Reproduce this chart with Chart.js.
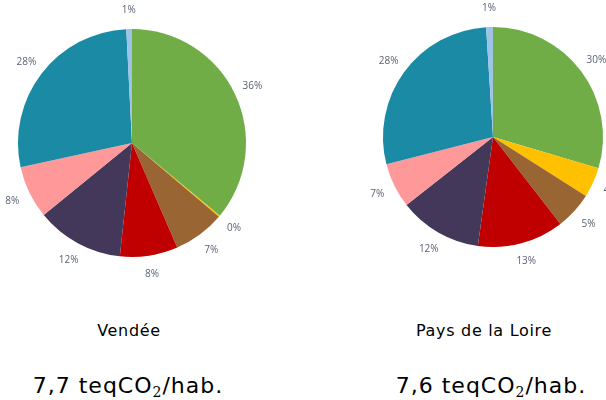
<!DOCTYPE html>
<html>
<head>
<meta charset="utf-8">
<script src="https://cdn.jsdelivr.net/npm/chart.js@4"></script>
<style>
  html, body { margin: 0; padding: 0; width: 606px; height: 400px; overflow: hidden; background: #fff; }
  .box { position: absolute; top: 0; height: 300px; }
  .txt { position: absolute; text-align: center; color: #000; font-family: "DejaVu Sans", sans-serif; white-space: nowrap; }
  .title { font-size: 16px; top: 321px; letter-spacing: 0.7px; }
  .big { font-size: 22px; top: 373px; letter-spacing: 1px; }
  sub { font-family: "DejaVu Serif", serif; font-size: 14px; vertical-align: -4px; line-height: 0; }
</style>
</head>
<body>
<div class="box" style="left:0;width:303px;"><canvas id="vendee"></canvas></div>
<div class="box" style="left:303px;width:400px;"><canvas id="pdl"></canvas></div>
<div class="txt title" style="left:29px;width:200px;">Vendée</div>
<div class="txt title" style="left:384px;width:200px;">Pays de la Loire</div>
<div class="txt big" style="left:28px;width:200px;">7,7 teqCO<sub>2</sub>/hab.</div>
<div class="txt big" style="left:391px;width:200px;">7,6 teqCO<sub>2</sub>/hab.</div>
<script>
// secteurs, dans l'ordre des aiguilles d'une montre depuis le haut
const sectors = ['Vert', 'Jaune', 'Marron', 'Rouge', 'Violet', 'Rose', 'Bleu canard', 'Bleu clair'];
const colors = ['#70AD47', '#FFC000', '#996633', '#C00000', '#44385A', '#FF9999', '#1A8AA5', '#9DC3E6'];

// Vendée
const vendeeValues = [36.0, 0.2, 7.3, 8.2, 12.4, 7.5, 27.6, 0.8];
const vendeeLabels = ['36%', '0%', '7%', '8%', '12%', '8%', '28%', '1%'];

// Pays de la Loire
const pdlValues = [29.6, 4.4, 5.5, 12.7, 12.2, 6.6, 28.0, 1.0];
const pdlLabels = ['30%', '4%', '5%', '13%', '12%', '7%', '28%', '1%'];

// Plugin pour écrire les pourcentages autour du camembert
const outsideLabels = {
  id: 'outsideLabels',
  afterDatasetsDraw(chart) {
    const ctx = chart.ctx;
    const texts = chart.options.plugins.outsideLabels.texts;
    const meta = chart.getDatasetMeta(0);
    ctx.save();
    ctx.font = '10px "Open Sans", sans-serif';
    ctx.fillStyle = '#5B6275';
    ctx.textAlign = 'center';
    ctx.textBaseline = 'middle';
    meta.data.forEach((arc, i) => {
      const mid = (arc.startAngle + arc.endAngle) / 2;
      const r = arc.outerRadius + 19;
      ctx.fillText(texts[i], arc.x + Math.cos(mid) * r, arc.y + Math.sin(mid) * r);
    });
    ctx.restore();
  }
};

function makePie(id, values, texts, padding) {
  new Chart(document.getElementById(id), {
    type: 'pie',
    data: {
      labels: sectors,
      datasets: [{
        data: values,
        backgroundColor: colors,
        borderWidth: 0,
        hoverOffset: 0
      }]
    },
    options: {
      responsive: true,
      maintainAspectRatio: false,
      animation: false,
      layout: { padding: padding },
      plugins: {
        legend: { display: false },
        tooltip: { enabled: false },
        outsideLabels: { texts: texts }
      }
    },
    plugins: [outsideLabels]
  });
}

makePie('vendee', vendeeValues, vendeeLabels, { left: 18, right: 57, top: 29, bottom: 43 });
makePie('pdl', pdlValues, pdlLabels, { left: 80, right: 100, top: 27, bottom: 53 });
</script>
</body>
</html>
